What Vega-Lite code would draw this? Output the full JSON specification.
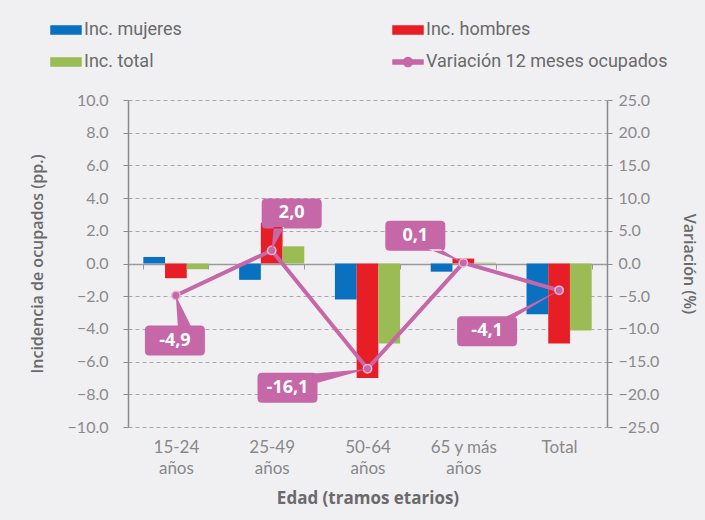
{
  "$schema": "https://vega.github.io/schema/vega-lite/v6.json",
  "width": 479,
  "height": 327,
  "autosize": {"type": "none"},
  "padding": {"left": 128, "top": 100, "right": 98, "bottom": 93},
  "background": "#f0f0f3",
  "config": {"view": {"stroke": null}},
  "datasets": {
    "barras": [
      {"grupo": "15-24 años", "serie": "Inc. mujeres", "valor": 0.4},
      {"grupo": "15-24 años", "serie": "Inc. hombres", "valor": -0.9},
      {"grupo": "15-24 años", "serie": "Inc. total", "valor": -0.35},
      {"grupo": "25-49 años", "serie": "Inc. mujeres", "valor": -1.0},
      {"grupo": "25-49 años", "serie": "Inc. hombres", "valor": 2.5},
      {"grupo": "25-49 años", "serie": "Inc. total", "valor": 1.05},
      {"grupo": "50-64 años", "serie": "Inc. mujeres", "valor": -2.2},
      {"grupo": "50-64 años", "serie": "Inc. hombres", "valor": -7.0},
      {"grupo": "50-64 años", "serie": "Inc. total", "valor": -4.9},
      {"grupo": "65 y más años", "serie": "Inc. mujeres", "valor": -0.5},
      {"grupo": "65 y más años", "serie": "Inc. hombres", "valor": 0.3},
      {"grupo": "65 y más años", "serie": "Inc. total", "valor": 0.05},
      {"grupo": "Total", "serie": "Inc. mujeres", "valor": -3.1},
      {"grupo": "Total", "serie": "Inc. hombres", "valor": -4.9},
      {"grupo": "Total", "serie": "Inc. total", "valor": -4.1}
    ],
    "linea": [
      {"grupo": "15-24 años", "variacion": -4.9, "etiqueta": "-4,9"},
      {"grupo": "25-49 años", "variacion": 2.0, "etiqueta": "2,0"},
      {"grupo": "50-64 años", "variacion": -16.1, "etiqueta": "-16,1"},
      {"grupo": "65 y más años", "variacion": 0.1, "etiqueta": "0,1"},
      {"grupo": "Total", "variacion": -4.1, "etiqueta": "-4,1"}
    ]
  },
  "encoding": {
    "x": {
      "field": "grupo",
      "type": "nominal",
      "sort": ["15-24 años", "25-49 años", "50-64 años", "65 y más años", "Total"],
      "scale": {"paddingInner": 0.32, "paddingOuter": 0.16},
      "axis": {
        "orient": "bottom",
        "offset": -163,
        "title": "Edad (tramos etarios)",
        "titleFont": "Open Sans",
        "titleFontSize": 17,
        "titleFontWeight": "bold",
        "titleColor": "#6a6a6a",
        "titlePadding": 26,
        "labelAngle": 0,
        "labelFont": "Lato",
        "labelFontSize": 17,
        "labelColor": "#888888",
        "labelPadding": 170,
        "labelLineHeight": 21,
        "labelBaseline": "top",
        "labelExpr": "indexof(datum.label, ' años') > 0 ? [replace(datum.label, ' años', ''), 'años'] : datum.label",
        "domainColor": "#9a9a9a",
        "domainWidth": 1.5,
        "tickColor": "#9a9a9a",
        "tickBand": "extent",
        "tickSize": 5,
        "grid": false
      }
    }
  },
  "layer": [
    {
      "data": {"name": "barras"},
      "mark": {"type": "bar"},
      "encoding": {
        "xOffset": {
          "field": "serie",
          "type": "nominal",
          "sort": ["Inc. mujeres", "Inc. hombres", "Inc. total"],
          "scale": {"paddingInner": 0, "paddingOuter": 0}
        },
        "y": {
          "field": "valor",
          "type": "quantitative",
          "scale": {"domain": [-10, 10], "nice": false, "zero": false},
          "axis": {
            "orient": "left",
            "title": "Incidencia de ocupados (pp.)",
            "titleFont": "Open Sans",
            "titleFontSize": 16,
            "titleFontWeight": 600,
            "titleColor": "#6a6a6a",
            "titlePadding": 22,
            "values": [-10, -8, -6, -4, -2, 0, 2, 4, 6, 8, 10],
            "format": ".1f",
            "labelFont": "Lato",
            "labelFontSize": 16,
            "labelColor": "#8a8a8a",
            "labelPadding": 15,
            "domainColor": "#8a8a8a",
            "domainWidth": 1.5,
            "tickColor": "#8a8a8a",
            "tickSize": 5,
            "grid": true,
            "gridColor": "#a8a8a8",
            "gridDash": [4, 3],
            "gridWidth": 1
          }
        },
        "color": {
          "field": "serie",
          "type": "nominal",
          "scale": {
            "domain": ["Inc. mujeres", "Inc. total", "Inc. hombres", "Variación 12 meses ocupados"],
            "range": ["#0a70c0", "#9bbb55", "#e81e26", "#c667a7"]
          },
          "legend": {
            "title": null,
            "orient": "none",
            "legendX": -78,
            "legendY": -86,
            "columns": 2,
            "columnPadding": 208,
            "rowPadding": 7,
            "padding": 0,
            "labelFont": "Roboto",
            "labelFontSize": 18,
            "labelColor": "#6a6a6a",
            "labelOffset": 2,
            "labelLimit": 400,
            "symbolSize": 900,
            "encode": {
              "symbols": {
                "update": {
                  "shape": {"signal": "datum.value == 'Variación 12 meses ocupados' ? 'M -1 -0.13 L -0.3 -0.13 L -0.3 0.13 L -1 0.13 Z M 0.3 -0.13 L 1 -0.13 L 1 0.13 L 0.3 0.13 Z M -0.3 0 A 0.3 0.3 0 1 0 0.3 0 A 0.3 0.3 0 1 0 -0.3 0 Z' : 'M -1 -0.27 L 1 -0.27 L 1 0.27 L -1 0.27 Z'"},
                  "size": {"value": 900},
                  "fill": {"scale": "color", "field": "value"},
                  "stroke": {"value": "transparent"},
                  "opacity": {"value": 1},
                  "fillOpacity": {"value": 1}
                }
              }
            }
          }
        }
      }
    },
    {
      "data": {"name": "linea"},
      "encoding": {
        "y": {
          "field": "variacion",
          "type": "quantitative",
          "scale": {"domain": [-25, 25], "nice": false, "zero": false},
          "axis": {
            "orient": "right",
            "title": "Variación (%)",
            "titleFont": "Open Sans",
            "titleFontSize": 16,
            "titleFontWeight": 600,
            "titleColor": "#6a6a6a",
            "titlePadding": 22,
            "values": [-25, -20, -15, -10, -5, 0, 5, 10, 15, 20, 25],
            "format": ".1f",
            "labelFont": "Lato",
            "labelFontSize": 16,
            "labelColor": "#8a8a8a",
            "labelPadding": 6,
            "domainColor": "#8a8a8a",
            "domainWidth": 1.5,
            "tickColor": "#8a8a8a",
            "tickSize": 5,
            "grid": false
          }
        }
      },
      "layer": [
        {
          "mark": {"type": "line", "color": "#c667a7", "strokeWidth": 4},
          "encoding": {"color": {"datum": "Variación 12 meses ocupados"}}
        },
        {
          "mark": {"type": "circle", "size": 70, "fill": "#c667a7", "stroke": "#eab8da", "strokeWidth": 1.5, "opacity": 1}
        },
        {
          "transform": [{"filter": "datum.grupo == '15-24 años'"}],
          "layer": [
            {"mark": {"type": "point", "filled": true, "color": "#c667a7", "opacity": 1, "size": 3600, "xOffset": -1, "yOffset": 45,
              "shape": "M -0.85 -0.5 L 0.85 -0.5 Q 1 -0.5 1 -0.35 L 1 0.35 Q 1 0.5 0.85 0.5 L -0.85 0.5 Q -1 0.5 -1 0.35 L -1 -0.35 Q -1 -0.5 -0.85 -0.5 Z M 0.1 -0.45 L 0.03 -1.5 L 0.55 -0.45 Z"}},
            {"mark": {"type": "text", "color": "white", "font": "Open Sans", "fontSize": 18, "fontWeight": "bold", "dx": -1, "dy": 45, "align": "center", "baseline": "middle"},
              "encoding": {"text": {"field": "etiqueta"}}}
          ]
        },
        {
          "transform": [{"filter": "datum.grupo == '25-49 años'"}],
          "layer": [
            {"mark": {"type": "point", "filled": true, "color": "#c667a7", "opacity": 1, "size": 3600, "xOffset": 20, "yOffset": -37,
              "shape": "M -0.85 -0.5 L 0.85 -0.5 Q 1 -0.5 1 -0.35 L 1 0.35 Q 1 0.5 0.85 0.5 L -0.85 0.5 Q -1 0.5 -1 0.35 L -1 -0.35 Q -1 -0.5 -0.85 -0.5 Z M -0.6 0.45 L -0.67 1.23 L -0.25 0.45 Z"}},
            {"mark": {"type": "text", "color": "white", "font": "Open Sans", "fontSize": 18, "fontWeight": "bold", "dx": 20, "dy": -37, "align": "center", "baseline": "middle"},
              "encoding": {"text": {"field": "etiqueta"}}}
          ]
        },
        {
          "transform": [{"filter": "datum.grupo == '50-64 años'"}],
          "layer": [
            {"mark": {"type": "point", "filled": true, "color": "#c667a7", "opacity": 1, "size": 3600, "xOffset": -80, "yOffset": 19,
              "shape": "M -0.85 -0.5 L 0.85 -0.5 Q 1 -0.5 1 -0.35 L 1 0.35 Q 1 0.5 0.85 0.5 L -0.85 0.5 Q -1 0.5 -1 0.35 L -1 -0.35 Q -1 -0.5 -0.85 -0.5 Z M 0.6 -0.45 L 2.67 -0.63 L 0.95 -0.15 Z"}},
            {"mark": {"type": "text", "color": "white", "font": "Open Sans", "fontSize": 18, "fontWeight": "bold", "dx": -80, "dy": 19, "align": "center", "baseline": "middle"},
              "encoding": {"text": {"field": "etiqueta"}}}
          ]
        },
        {
          "transform": [{"filter": "datum.grupo == '65 y más años'"}],
          "layer": [
            {"mark": {"type": "point", "filled": true, "color": "#c667a7", "opacity": 1, "size": 3600, "xOffset": -48, "yOffset": -27,
              "shape": "M -0.85 -0.5 L 0.85 -0.5 Q 1 -0.5 1 -0.35 L 1 0.35 Q 1 0.5 0.85 0.5 L -0.85 0.5 Q -1 0.5 -1 0.35 L -1 -0.35 Q -1 -0.5 -0.85 -0.5 Z M 0.45 0.45 L 1.6 0.9 L 0.85 0.45 Z"}},
            {"mark": {"type": "text", "color": "white", "font": "Open Sans", "fontSize": 18, "fontWeight": "bold", "dx": -48, "dy": -27, "align": "center", "baseline": "middle"},
              "encoding": {"text": {"field": "etiqueta"}}}
          ]
        },
        {
          "transform": [{"filter": "datum.grupo == 'Total'"}],
          "layer": [
            {"mark": {"type": "point", "filled": true, "color": "#c667a7", "opacity": 1, "size": 3600, "xOffset": -72, "yOffset": 41,
              "shape": "M -0.85 -0.5 L 0.85 -0.5 Q 1 -0.5 1 -0.35 L 1 0.35 Q 1 0.5 0.85 0.5 L -0.85 0.5 Q -1 0.5 -1 0.35 L -1 -0.35 Q -1 -0.5 -0.85 -0.5 Z M 0.55 -0.45 L 2.4 -1.37 L 0.9 -0.45 Z"}},
            {"mark": {"type": "text", "color": "white", "font": "Open Sans", "fontSize": 18, "fontWeight": "bold", "dx": -72, "dy": 41, "align": "center", "baseline": "middle"},
              "encoding": {"text": {"field": "etiqueta"}}}
          ]
        }
      ]
    }
  ],
  "resolve": {"scale": {"y": "independent"}, "axis": {"y": "independent"}}
}
